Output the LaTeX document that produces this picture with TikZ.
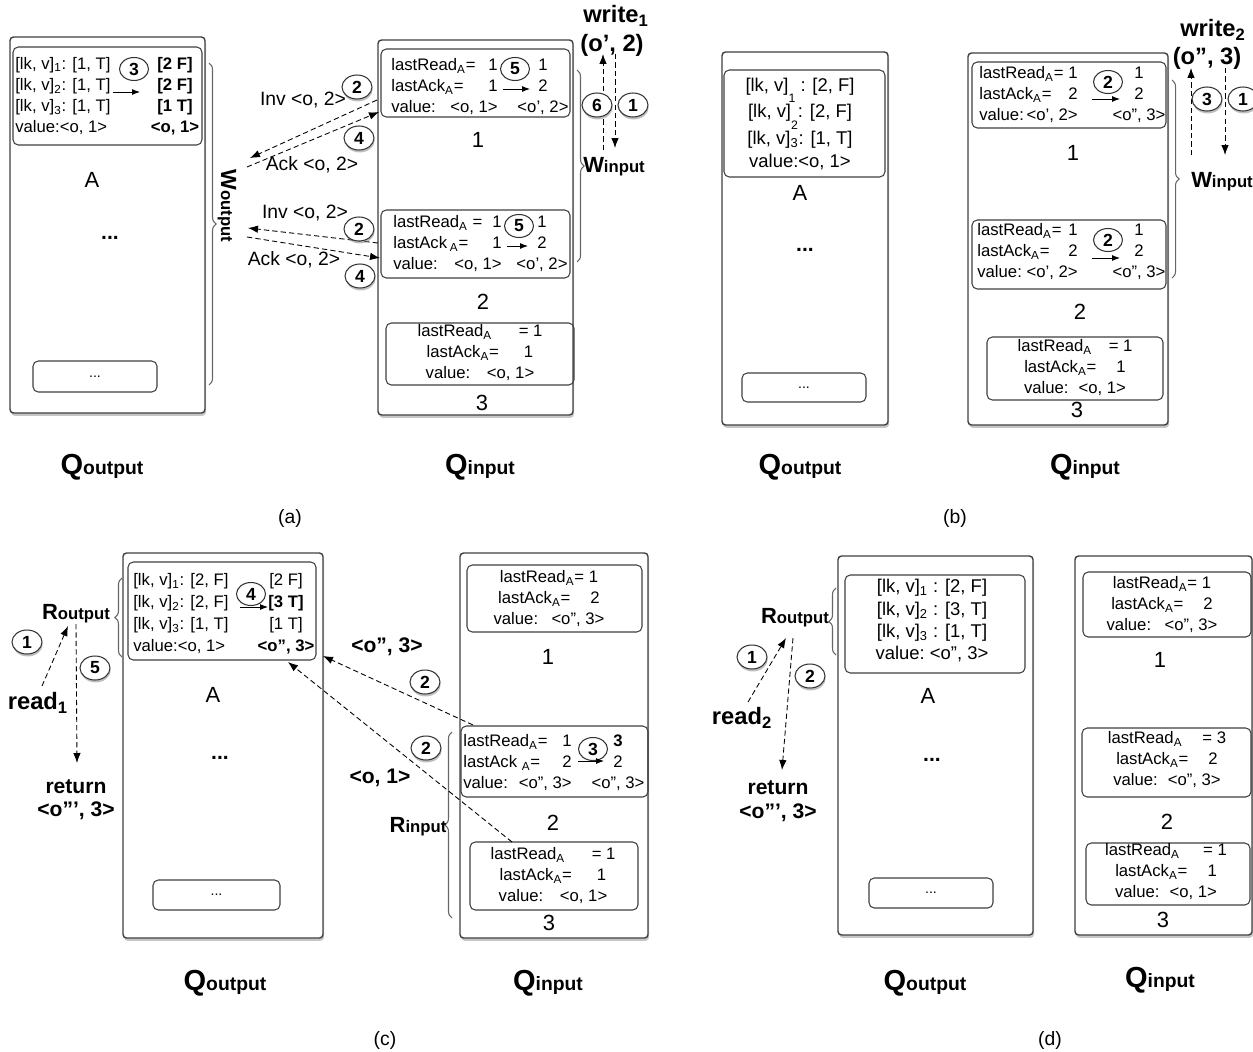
\documentclass[tikz,border=0pt]{standalone}
\usepackage{fontspec}
\setmainfont{Liberation Sans}
\usetikzlibrary{arrows.meta,positioning,calc,fit,shapes.geometric,shadows,decorations.pathreplacing}
\newcommand{\bigname}[2]{\textbf{{\fontsize{16.5}{18}\selectfont #1}{\fontsize{11}{13}\selectfont #2}}}
\newcommand{\midname}[2]{\textbf{{\fontsize{12.5}{14}\selectfont #1}{\fontsize{9.5}{11}\selectfont #2}}}
\newcommand{\dsub}[1]{\raisebox{-1.2ex}{\fontsize{7}{8}\selectfont #1}}
\newcommand{\sA}{\textsubscript{A}}

\begin{document}
\begin{tikzpicture}[x=0.02cm, y=-0.02cm,
  every node/.style={inner sep=0pt, font=\fontsize{9.5}{12}\selectfont},
  qbox/.style={draw=black!75, line width=0.8pt, rounded corners=2pt, fill=white, drop shadow={shadow xshift=0.6pt, shadow yshift=-1.6pt, opacity=0.45}},
  ibox/.style={draw=black!75, line width=0.6pt, rounded corners=3pt},
  sbox/.style={draw=black!75, line width=0.6pt, rounded corners=3pt, fill=white, font=\fontsize{8}{9}\selectfont},
  col/.style={align=left, execute at begin node=\strut, execute at end node=\strut},
  stepmark/.style={ellipse, draw=black!80, line width=0.6pt, fill=white, minimum width=0.6cm, minimum height=0.48cm, font=\bfseries\fontsize{10}{12}\selectfont, drop shadow={shadow xshift=0.4pt, shadow yshift=-1.4pt, opacity=0.5}},
  loopmark/.style={ellipse, draw=black!80, line width=0.6pt, minimum width=0.58cm, minimum height=0.46cm, font=\bfseries\fontsize{10}{12}\selectfont},
  flow/.style={dash pattern=on 3pt off 1.8pt, line width=0.5pt, -{Latex[length=2mm, width=1.5mm]}},
  upd/.style={line width=0.5pt, -{Latex[length=1.6mm, width=1.2mm]}},
  brc/.style={draw=black!60, line width=0.6pt, decorate, decoration={brace, amplitude=4pt}},
  num/.style={font=\fontsize{12.5}{14}\selectfont},
  ellip/.style={font=\bfseries\fontsize{12}{14}\selectfont},
  msg/.style={font=\fontsize{11}{13}\selectfont},
  op/.style={font=\bfseries\fontsize{13.5}{16}\selectfont},
  val/.style={font=\bfseries\fontsize{12}{14}\selectfont},
  panel/.style={font=\fontsize{11}{13}\selectfont}]
\useasboundingbox (0,0) rectangle (1253,1051);

\node[qbox, fit={(10,37) (205,413)}] (aQo) {};
\node[qbox, fit={(378,40) (573,415)}] (aQi) {};
\node[ibox, fit={(13,47) (202,145)}] (aQoTop) {};
\node[col, anchor=west] (aQoL) at (15,98) {[lk, v]\textsubscript{1}: [1, T]\\{}[lk, v]\textsubscript{2}: [1, T]\\{}[lk, v]\textsubscript{3}: [1, T]\\value:<o, 1>};
\node[col, align=center, font=\bfseries\fontsize{9.5}{12}\selectfont] (aQoR) at (175,98) {[2 F]\\{}[2 F]\\{}[1 T]\\<o, 1>};
\node[loopmark] (aQoS) at (134,69) {3};
\coordinate (aQoU1) at (113,92);
\coordinate (aQoU2) at (140,92);
\draw[upd] (aQoU1) -- (aQoU2);
\node[num] (aQoA) at (92,180) {A};
\node[ellip] (aQoD) at (110,238) {...};
\node[sbox, fit={(33,361) (157,392)}] (aQoSm) {};
\node (aQoSmD) at (aQoSm.center) {\fontsize{8}{9}\selectfont ...};
\coordinate (aWo1) at (209,63);
\coordinate (aWo2) at (209,385);
\draw[brc] (aWo1) -- (aWo2);
\node[rotate=-90] (aWo) at (227,206) {\midname{W}{output}};

\node[ibox, fit={(381,49) (570,117)}] (aQi1) {};
\node[col, anchor=west] (aQi1L) at (391,89) {lastRead\sA=\\lastAck\sA=\\value:};
\node[col, align=right, anchor=east] (aQi1O) at (498,89) {1\\1\\<o, 1>};
\node[col, align=center] (aQi1N) at (543,89) {1\\2\\<o', 2>};
\node[loopmark] (aQi1S) at (515,69) {5};
\coordinate (aQi1U1) at (503,89);
\coordinate (aQi1U2) at (530,89);
\draw[upd] (aQi1U1) -- (aQi1U2);
\node[num] (aQi1n) at (478,140) {1};
\node[ibox, fit={(381,210) (570,278)}] (aQi2) {};
\node[col, anchor=west] (aQi2L) at (393,246) {lastRead\sA\ =\\lastAck\,\sA=\\value:};
\node[col, align=right, anchor=east] (aQi2O) at (502,246) {1\\1\\<o, 1>};
\node[col, align=center] (aQi2N) at (542,246) {1\\2\\<o', 2>};
\node[loopmark] (aQi2S) at (519,226) {5};
\coordinate (aQi2U1) at (507,246);
\coordinate (aQi2U2) at (528,246);
\draw[upd] (aQi2U1) -- (aQi2U2);
\node[num] (aQi2n) at (483,302) {2};
\node[ibox, fit={(386,323) (574,385)}] (aQi3) {};
\node[col, align=center] (aQi3T) at (480,355) {lastRead\sA\hspace{1.6em}= 1\\lastAck\sA=\hspace{1.5em}1\\value:\hspace{1em}<o, 1>};
\node[num] (aQi3n) at (482,403) {3};

\coordinate (aInv1s) at (377,100);
\coordinate (aInv1e) at (250,158);
\coordinate (aAck1s) at (247,167);
\coordinate (aAck1e) at (379,112);
\draw[flow] (aInv1s) -- (aInv1e);
\draw[flow] (aAck1s) -- (aAck1e);
\node[msg] (aInv1) at (303,100) {Inv <o, 2>};
\node[msg] (aAck1) at (312,165) {Ack <o, 2>};
\node[stepmark] (aS2a) at (357,87) {2};
\node[stepmark] (aS4a) at (359,138) {4};
\coordinate (aInv2s) at (378,243);
\coordinate (aInv2e) at (248,228);
\coordinate (aAck2s) at (247,237);
\coordinate (aAck2e) at (380,258);
\draw[flow] (aInv2s) -- (aInv2e);
\draw[flow] (aAck2s) -- (aAck2e);
\node[msg] (aInv2) at (305,213) {Inv <o, 2>};
\node[msg] (aAck2) at (294,260) {Ack <o, 2>};
\node[stepmark] (aS2b) at (359,229) {2};
\node[stepmark] (aS4b) at (360,276) {4};

\coordinate (aWi1) at (577,70);
\coordinate (aWi2) at (577,262);
\draw[brc] (aWi1) -- (aWi2);
\node (aWi) at (614,167) {\midname{W}{input}};
\node[op] (aW) at (616,16) {write\textsubscript{1}};
\node[op] (aWv) at (612,45) {(o', 2)};
\coordinate (aUp1) at (603,150);
\coordinate (aUp2) at (603,54);
\coordinate (aDn1) at (615,54);
\coordinate (aDn2) at (615,148);
\draw[flow] (aUp1) -- (aUp2);
\draw[flow] (aDn1) -- (aDn2);
\node[stepmark] (aS6) at (597,105) {6};
\node[stepmark] (aS1) at (633,105) {1};
\node (aQoN) at (102,467) {\bigname{Q}{output}};
\node (aQiN) at (480,467) {\bigname{Q}{input}};
\node[panel] (aCap) at (290,518) {(a)};

\node[qbox, fit={(722,52) (888,425)}] (bQo) {};
\node[qbox, fit={(968,53) (1168,425)}] (bQi) {};
\node[ibox, fit={(724,70) (885,177)}] (bQoTop) {};
\node[col, align=center, font=\fontsize{10.5}{13}\selectfont] (bQoT) at (800,126) {[lk, v]\dsub{1} : [2, F]\\{}[lk, v]\dsub{2}: [2, F]\\{}[lk, v]\textsubscript{3}: [1, T]\\value:<o, 1>};
\node[num] (bQoA) at (800,193) {A};
\node[ellip] (bQoD) at (805,250) {...};
\node[sbox, fit={(742,373) (866,402)}] (bQoSm) {};
\node (bQoSmD) at (bQoSm.center) {\fontsize{8}{9}\selectfont ...};

\node[ibox, fit={(972,62) (1166,128)}] (bQi1) {};
\node[col, anchor=west] (bQi1L) at (979,97) {lastRead\sA=\\lastAck\sA=\\value:};
\node[col, align=right, anchor=east] (bQi1O) at (1078,97) {1\\2\\<o', 2>};
\node[col, align=center] (bQi1N) at (1139,97) {1\\2\\<o'', 3>};
\node[loopmark] (bQi1S) at (1108,82) {2};
\coordinate (bQi1U1) at (1092,99);
\coordinate (bQi1U2) at (1120,99);
\draw[upd] (bQi1U1) -- (bQi1U2);
\node[num] (bQi1n) at (1073,153) {1};
\node[ibox, fit={(972,220) (1166,289)}] (bQi2) {};
\node[col, anchor=west] (bQi2L) at (977,254) {lastRead\sA =\\lastAck\sA =\\value:};
\node[col, align=right, anchor=east] (bQi2O) at (1078,254) {1\\2\\<o', 2>};
\node[col, align=center] (bQi2N) at (1139,254) {1\\2\\<o'', 3>};
\node[loopmark] (bQi2S) at (1108,240) {2};
\coordinate (bQi2U1) at (1092,258);
\coordinate (bQi2U2) at (1120,258);
\draw[upd] (bQi2U1) -- (bQi2U2);
\node[num] (bQi2n) at (1080,312) {2};
\node[ibox, fit={(987,337) (1163,400)}] (bQi3) {};
\node[col, align=center] (bQi3T) at (1075,370) {lastRead\sA\hspace{1em}= 1\\lastAck\sA =\hspace{1.2em}1\\value:\hspace{0.6em}<o, 1>};
\node[num] (bQi3n) at (1077,410) {3};

\coordinate (bWi1) at (1172,80);
\coordinate (bWi2) at (1172,278);
\draw[brc] (bWi1) -- (bWi2);
\node (bWi) at (1222,182) {\midname{W}{input}};
\node[op] (bW) at (1213,30) {write\textsubscript{2}};
\node[op] (bWv) at (1207,58) {(o'', 3)};
\coordinate (bUp1) at (1191,155);
\coordinate (bUp2) at (1191,68);
\coordinate (bDn1) at (1225,68);
\coordinate (bDn2) at (1225,155);
\draw[flow] (bUp1) -- (bUp2);
\draw[flow] (bDn1) -- (bDn2);
\node[stepmark] (bS3) at (1207,99) {3};
\node[stepmark] (bS1) at (1243,99) {1};
\node (bQoN) at (800,467) {\bigname{Q}{output}};
\node (bQiN) at (1085,467) {\bigname{Q}{input}};
\node[panel] (bCap) at (955,518) {(b)};

\node[qbox, fit={(123,553) (323,938)}] (cQo) {};
\node[qbox, fit={(460,553) (648,938)}] (cQi) {};
\node[ibox, fit={(128,562) (316,660)}] (cQoTop) {};
\node[col, anchor=west, font=\fontsize{9.5}{12.5}\selectfont] (cQoL) at (133,616) {[lk, v]\textsubscript{1}: [2, F]\\{}[lk, v]\textsubscript{2}: [2, F]\\{}[lk, v]\textsubscript{3}: [1, T]\\value:<o, 1>};
\node[col, align=center, font=\fontsize{9.5}{12.5}\selectfont] (cQoR) at (286,616) {[2 F]\\\textbf{[3 T]}\\{}[1 T]\\\textbf{<o'', 3>}};
\node[loopmark] (cQoS) at (251,594) {4};
\coordinate (cQoU1) at (240,607);
\coordinate (cQoU2) at (268,607);
\draw[upd] (cQoU1) -- (cQoU2);
\node[num] (cQoA) at (213,695) {A};
\node[ellip] (cQoD) at (220,758) {...};
\node[sbox, fit={(153,880) (280,910)}] (cQoSm) {};
\node (cQoSmD) at (cQoSm.center) {\fontsize{8}{9}\selectfont ...};
\coordinate (cRo1) at (122,657);
\coordinate (cRo2) at (122,578);
\draw[brc] (cRo1) -- (cRo2);
\node (cRo) at (76,614) {\midname{R}{output}};
\node[op] (cRd) at (38,703) {read\textsubscript{1}};
\node[val] (cRet) at (76,787) {return};
\node[val] (cRetV) at (76,811) {<o''', 3>};
\coordinate (cUp1) at (42,686);
\coordinate (cUp2) at (68,626);
\coordinate (cDn1) at (76,624);
\coordinate (cDn2) at (77,763);
\draw[flow] (cUp1) -- (cUp2);
\draw[flow] (cDn1) -- (cDn2);
\node[stepmark] (cS1) at (27,642) {1};
\node[stepmark] (cS5) at (95,668) {5};

\node[ibox, fit={(467,565) (642,632)}] (cQi1) {};
\node[col, align=center] (cQi1T) at (549,601) {lastRead\sA= 1\\lastAck\sA=\hspace{1.2em}2\\value:\hspace{0.8em}<o'', 3>};
\node[num] (cQi1n) at (548,657) {1};
\node[ibox, fit={(461,726) (648,797)}] (cQi2) {};
\node[col, anchor=west] (cQi2L) at (463,765) {lastRead\sA =\\lastAck \sA=\\value:};
\node[col, align=right, anchor=east] (cQi2O) at (572,765) {1\\2\\<o'', 3>};
\node[col, align=center] (cQi2N) at (618,765) {\textbf{3}\\2\\<o'', 3>};
\node[loopmark] (cQi2S) at (593,749) {3};
\coordinate (cQi2U1) at (578,761);
\coordinate (cQi2U2) at (604,761);
\draw[upd] (cQi2U1) -- (cQi2U2);
\node[num] (cQi2n) at (553,823) {2};
\node[ibox, fit={(470,842) (638,910)}] (cQi3) {};
\node[col, align=center] (cQi3T) at (553,878) {lastRead\sA\hspace{1.6em}= 1\\lastAck\sA=\hspace{1.5em}1\\value:\hspace{1em}<o, 1>};
\node[num] (cQi3n) at (549,923) {3};
\coordinate (cRi1) at (452,918);
\coordinate (cRi2) at (452,732);
\draw[brc] (cRi1) -- (cRi2);
\node (cRi) at (418,827) {\midname{R}{input}};

\coordinate (cV1s) at (473,725);
\coordinate (cV1e) at (323,656);
\coordinate (cV2s) at (512,842);
\coordinate (cV2e) at (288,662);
\draw[flow] (cV1s) -- (cV1e);
\draw[flow] (cV2s) -- (cV2e);
\node[val] (cV1) at (387,647) {<o'', 3>};
\node[val] (cV2) at (380,778) {<o, 1>};
\node[stepmark] (cS2a) at (425,682) {2};
\node[stepmark] (cS2b) at (426,748) {2};
\node (cQoN) at (225,983) {\bigname{Q}{output}};
\node (cQiN) at (548,983) {\bigname{Q}{input}};
\node[panel] (cCap) at (385,1040) {(c)};

\node[qbox, fit={(838,556) (1033,935)}] (dQo) {};
\node[qbox, fit={(1075,556) (1252,935)}] (dQi) {};
\node[ibox, fit={(845,575) (1025,673)}] (dQoTop) {};
\node[col, align=center, font=\fontsize{10.5}{12.7}\selectfont] (dQoT) at (932,623) {[lk, v]\textsubscript{1} : [2, F]\\{}[lk, v]\textsubscript{2} : [3, T]\\{}[lk, v]\textsubscript{3} : [1, T]\\value:\ <o'', 3>};
\node[num] (dQoA) at (928,696) {A};
\node[ellip] (dQoD) at (932,760) {...};
\node[sbox, fit={(869,878) (993,908)}] (dQoSm) {};
\node (dQoSmD) at (dQoSm.center) {\fontsize{8}{9}\selectfont ...};
\coordinate (dRo1) at (836,655);
\coordinate (dRo2) at (836,588);
\draw[brc] (dRo1) -- (dRo2);
\node (dRo) at (795,618) {\midname{R}{output}};
\node[op] (dRd) at (742,718) {read\textsubscript{2}};
\node[val] (dRet) at (778,788) {return};
\node[val] (dRetV) at (778,813) {<o''', 3>};
\coordinate (dUp1) at (748,702);
\coordinate (dUp2) at (786,638);
\coordinate (dDn1) at (793,638);
\coordinate (dDn2) at (782,770);
\draw[flow] (dUp1) -- (dUp2);
\draw[flow] (dDn1) -- (dDn2);
\node[stepmark] (dS1) at (752,657) {1};
\node[stepmark] (dS2) at (810,676) {2};

\node[ibox, fit={(1083,572) (1251,637)}] (dQi1) {};
\node[col, align=center] (dQi1T) at (1162,607) {lastRead\sA= 1\\lastAck\sA=\hspace{1.2em}2\\value:\hspace{0.8em}<o'', 3>};
\node[num] (dQi1n) at (1160,660) {1};
\node[ibox, fit={(1082,728) (1251,797)}] (dQi2) {};
\node[col, align=center] (dQi2T) at (1167,762) {lastRead\sA\hspace{1.2em}= 3\\lastAck\sA=\hspace{1.2em}2\\value:\hspace{0.6em}<o'', 3>};
\node[num] (dQi2n) at (1167,822) {2};
\node[ibox, fit={(1086,843) (1250,905)}] (dQi3) {};
\node[col, align=center] (dQi3T) at (1166,874) {lastRead\sA\hspace{1.4em}= 1\\lastAck\sA=\hspace{1.2em}1\\value:\hspace{0.6em}<o, 1>};
\node[num] (dQi3n) at (1163,920) {3};
\node (dQoN) at (925,983) {\bigname{Q}{output}};
\node (dQiN) at (1160,980) {\bigname{Q}{input}};
\node[panel] (dCap) at (1050,1040) {(d)};
\end{tikzpicture}
\end{document}
